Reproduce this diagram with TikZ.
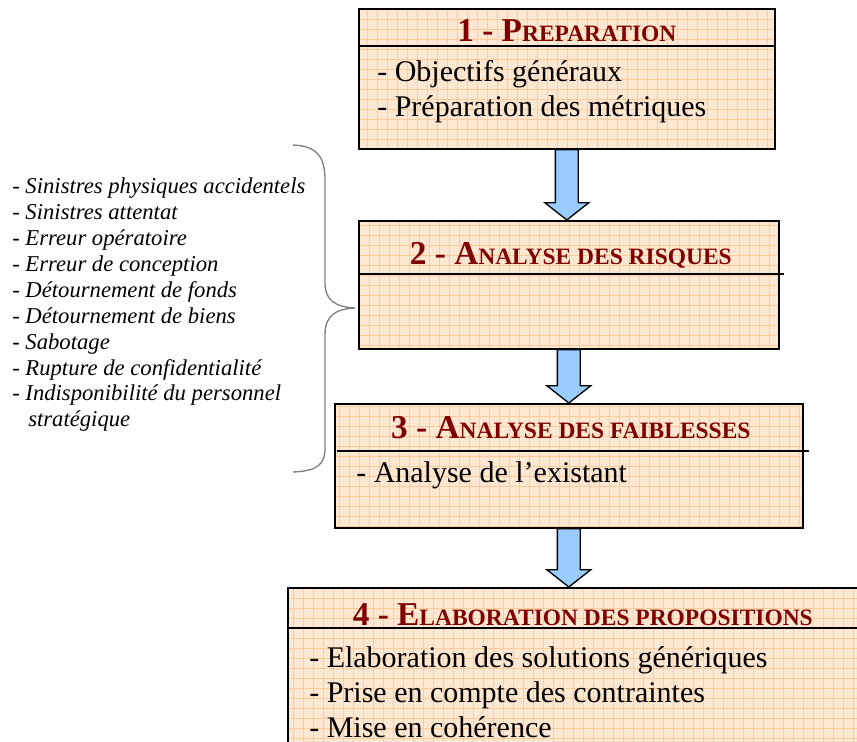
\documentclass[tikz,border=0pt]{standalone}
\usepackage{fontspec}
\setmainfont{Liberation Serif}
\usetikzlibrary{positioning}
\usetikzlibrary{calc}
\definecolor{titlered}{RGB}{128,0,0}
\definecolor{boxfill}{RGB}{255,232,210}
\definecolor{gridorange}{RGB}{255,204,153}
\definecolor{arrowblue}{RGB}{153,204,255}
\definecolor{bracegray}{RGB}{128,128,128}
\newcommand{\titlesc}[1]{{\fontsize{17.6}{20}\selectfont #1}}
\newcommand{\flowarrow}[2]{%
  \draw[flowarrow] let \p1=(#1.south), \p2=(#1.south |- #2.north) in
    (\x1-8.6pt,\y1) -- (\x1-8.6pt,\y2+13pt) -- (\x1-16.5pt,\y2+13pt) -- (\p2)
    -- (\x1+16.5pt,\y2+13pt) -- (\x1+8.6pt,\y2+13pt) -- (\x1+8.6pt,\y1) -- cycle;}
\tikzset{
  box/.style={draw, line width=1.2pt, fill=boxfill, inner sep=0pt, anchor=north west,
    path picture={\draw[gridorange, line width=0.4pt, step=7.5pt]
      (path picture bounding box.south west) grid (path picture bounding box.north east);}},
  divider/.style={line width=1pt},
  boxtitle/.style={font=\fontsize{25}{28}\selectfont\bfseries, text=titlered, anchor=base, inner sep=0pt},
  boxitem/.style={font=\fontsize{22.5}{26}\selectfont, anchor=base west, inner sep=0pt},
  flowarrow/.style={draw, fill=arrowblue, line width=1pt, line join=miter},
  riskbrace/.style={draw=bracegray, line width=1pt}
}
\begin{document}
\begin{tikzpicture}[x=0.75pt, y=-0.75pt]
        \useasboundingbox (0,0) rectangle (857,742);
        \clip (0,0) rectangle (857,742);

        % boxes %
        \node[box, minimum width=312pt, minimum height=105pt] (b1) at (358,8) {};
        \node[box, minimum width=315pt, minimum height=96pt] (b2) at (358,220) {};
        \node[box, minimum width=351pt, minimum height=93pt] (b3) at (334,403) {};
        \node[box, minimum width=442.5pt, minimum height=150pt] (b4) at (287,587) {};

        % dividers %
        \draw[divider] ($(b1.north west)+(0,38)$) -- ($(b1.north east)+(0,38)$);
        \draw[divider] ($(b2.north west)+(0,54)$) -- ($(b2.north east)+(4,54)$);
        \draw[divider] ($(b3.north west)+(3,48)$) -- ($(b3.north east)+(5,48)$);
        \draw[divider] ($(b4.north west)+(0,41)$) -- ($(b4.north east)+(0,41)$);

        % titles %
        \node[boxtitle] (t1) at ($(b1.north)+(0,34)$) {1 - P\titlesc{REPARATION}};
        \node[boxtitle] (t2) at ($(b2.north)+(2,44)$) {2 - A\titlesc{NALYSE DES RISQUES}};
        \node[boxtitle] (t3) at ($(b3.north)+(2,35)$) {3 - A\titlesc{NALYSE DES FAIBLESSES}};
        \node[boxtitle] (t4) at ($(b4.north)+(0,38)$) {4 - E\titlesc{LABORATION DES PROPOSITIONS}};

        % items %
        \node[boxitem] (i11) at ($(b1.north west)+(19,74)$) {- Objectifs généraux};
        \node[boxitem, below=26.25pt of i11.base west, anchor=base west] (i12) {- Préparation des métriques};
        \node[boxitem] (i31) at ($(b3.north west)+(22,79)$) {- Analyse de l’existant};
        \node[boxitem] (i41) at ($(b4.north west)+(22,80)$) {- Elaboration des solutions génériques};
        \node[boxitem, below=26.25pt of i41.base west, anchor=base west] (i42) {- Prise en compte des contraintes};
        \node[boxitem, below=26.25pt of i42.base west, anchor=base west] (i43) {- Mise en cohérence};

        % risks %
        \node[anchor=north west, inner sep=0pt, align=left, font=\fontsize{17}{19.4}\selectfont\itshape] (risks) at (12,178)
          {- Sinistres physiques accidentels\\
           - Sinistres attentat\\
           - Erreur opératoire\\
           - Erreur de conception\\
           - Détournement de fonds\\
           - Détournement de biens\\
           - Sabotage\\
           - Rupture de confidentialité\\
           - Indisponibilité du personnel\\
           \hspace*{12pt}stratégique};

        % edges %
        \flowarrow{b1}{b2}
        \flowarrow{b2}{b3}
        \flowarrow{b3}{b4}
        \coordinate (btop) at (293,145);
        \coordinate (btip) at (355,308);
        \coordinate (bbot) at (293,472);
        \draw[riskbrace] (btop) .. controls (318,146) and (325,158) .. (325,180) -- (325,283)
          .. controls (325,300) and (335,307) .. (btip)
          .. controls (335,309) and (325,316) .. (325,335) -- (325,448)
          .. controls (325,464) and (318,471) .. (bbot);
      \end{tikzpicture}
\end{document}
